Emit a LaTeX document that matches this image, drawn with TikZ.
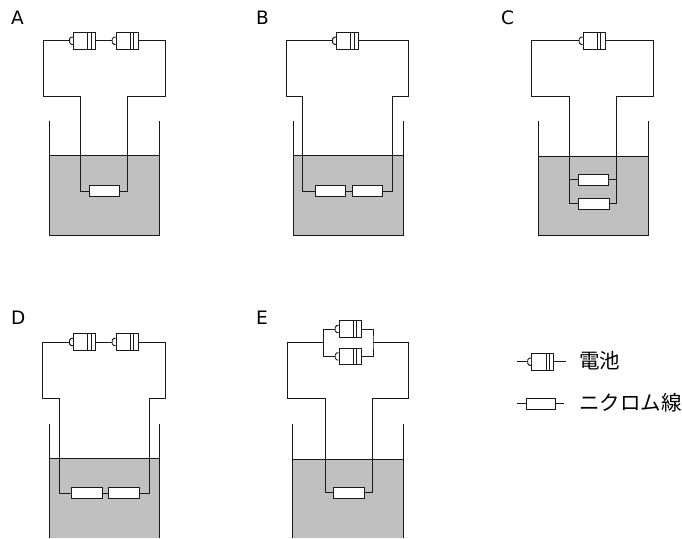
\documentclass[tikz,border=0pt]{standalone}
\usepackage{fontspec}
\setmainfont{DejaVu Sans}
\newfontfamily\cjk{Noto Sans CJK JP}
\definecolor{water}{HTML}{C0C0C0}
\definecolor{ink}{HTML}{1A1A1A}
\tikzset{
  wire/.style={draw=ink,line width=0.95pt,line join=miter},
  cellbody/.style={draw=ink,line width=0.95pt,fill=white,rectangle,inner sep=0pt,minimum width=22.4pt,minimum height=16.6pt},
  heater/.style={draw=ink,line width=0.95pt,fill=white,rectangle,inner sep=0pt,minimum width=30.6pt,minimum height=10.8pt},
  panel/.style={anchor=base west,inner sep=0pt,font=\fontsize{18.5pt}{20pt}\selectfont},
  legendtext/.style={anchor=base west,inner sep=0pt,font=\cjk\fontsize{20.5pt}{22pt}\selectfont}
}
% name, body left x, centre y
\newcommand\battery[3]{%
  \node[cellbody] (#1) at (#2+11.2,#3) {};
  \draw[wire,fill=white] ([yshift=3.6pt]#1.west) -- ++(-1.6pt,0) -- ++(-1.7pt,-1.7pt) -- ++(0,-3.8pt) -- ++(1.7pt,-1.7pt) -- ++(1.6pt,0);
  \draw[wire] ([xshift=15pt]#1.north west) -- ([xshift=15pt]#1.south west);
  \draw[wire] ([xshift=18.4pt]#1.north west) -- ([xshift=18.4pt]#1.south west);
  \coordinate (#1-l) at ([xshift=-3.3pt]#1.west);
}
% left, right, top, water, bottom
\newcommand\beaker[5]{%
  \fill[water] (#1,#4) rectangle (#2,#5);
  \draw[wire] (#1,#4) -- (#2,#4);
  \draw[wire] (#1,#3) -- (#1,#5) -- (#2,#5) -- (#2,#3);
}
\newcommand\beakeropen[5]{%
  \fill[water] (#1,#4) rectangle (#2,#5);
  \draw[wire] (#1,#4) -- (#2,#4);
  \draw[wire] (#1,#3) -- (#1,#5);
  \draw[wire] (#2,#3) -- (#2,#5);
}
\begin{document}
\begin{tikzpicture}[x=1pt,y=-1pt]
\useasboundingbox (0,0) rectangle (682,538);
\fill[white] (0,0) rectangle (682,538);

% panel labels
\node[panel] (la) at (11,24) {A};
\node[panel] (lb) at (256,24) {B};
\node[panel] (lc) at (501,24) {C};
\node[panel] (ld) at (11,324) {D};
\node[panel] (le) at (256,324) {E};

% ---------- A
\beaker{49.5}{159.5}{120.5}{155.7}{235.5}
\battery{a1}{73.3}{40.7}
\battery{a2}{116}{40.7}
\node[heater] (ar) at (104.4,191.2) {};
\coordinate (aSL) at (43,96.7);
\coordinate (aIL) at (80.7,96.7);
\coordinate (aSR) at (165.3,96.7);
\coordinate (aIR) at (127.5,96.7);
\draw[wire] (a1.east) -- (a2-l);
\draw[wire] (a1-l) -| (aSL) -- (aIL) |- (ar.west);
\draw[wire] (a2.east) -| (aSR) -- (aIR) |- (ar.east);

% ---------- B
\beaker{293}{403}{120.5}{155.7}{235.5}
\battery{b1}{336.3}{40.7}
\node[heater] (br1) at (330.5,191.2) {};
\node[heater] (br2) at (367.6,191.2) {};
\coordinate (bSL) at (286.5,96.7);
\coordinate (bIL) at (302.8,96.7);
\coordinate (bSR) at (408.7,96.7);
\coordinate (bIR) at (392.8,96.7);
\draw[wire] (b1-l) -| (bSL) -- (bIL) |- (br1.west);
\draw[wire] (br1.east) -- (br2.west);
\draw[wire] (b1.east) -| (bSR) -- (bIR) |- (br2.east);

% ---------- C
\beaker{538}{648.3}{120.5}{156}{235.5}
\battery{c1}{583}{40.7}
\node[heater] (cr1) at (593.5,179.7) {};
\node[heater] (cr2) at (593.8,203.8) {};
\coordinate (cSL) at (531.5,96.7);
\coordinate (cIL) at (569.5,96.7);
\coordinate (cSR) at (653.7,96.7);
\coordinate (cIR) at (616.7,96.7);
\draw[wire] (c1-l) -| (cSL) -- (cIL) |- (cr2.west);
\draw[wire] (c1.east) -| (cSR) -- (cIR) |- (cr2.east);
\draw[wire] (cr1.west) -- (cIL |- cr1.west);
\draw[wire] (cr1.east) -- (cIR |- cr1.east);

% ---------- D
\beakeropen{49.3}{159.3}{423.5}{458.7}{538}
\battery{d1}{73.3}{342}
\battery{d2}{116}{342}
\node[heater] (dr1) at (87,493.2) {};
\node[heater] (dr2) at (124.2,493.2) {};
\coordinate (dSL) at (42.8,398.5);
\coordinate (dIL) at (59.3,398.5);
\coordinate (dSR) at (165.5,398.5);
\coordinate (dIR) at (149.3,398.5);
\draw[wire] (d1.east) -- (d2-l);
\draw[wire] (d1-l) -| (dSL) -- (dIL) |- (dr1.west);
\draw[wire] (dr1.east) -- (dr2.west);
\draw[wire] (d2.east) -| (dSR) -- (dIR) |- (dr2.east);

% ---------- E
\beakeropen{292.8}{403}{424}{459}{538}
\battery{e1}{339}{329}
\battery{e2}{339}{356.4}
\node[heater] (er) at (348.8,492.8) {};
\coordinate (eJL) at (323.7,342);
\coordinate (eJR) at (373,342);
\coordinate (eSL) at (287.3,398);
\coordinate (eIL) at (325,398);
\coordinate (eSR) at (408.7,398);
\coordinate (eIR) at (372,398);
\draw[wire] (e1-l) -| (eJL) |- (e2-l);
\draw[wire] (e1.east) -| (eJR) |- (e2.east);
\draw[wire] (eJL) -| (eSL) -- (eIL) |- (er.west);
\draw[wire] (eJR) -| (eSR) -- (eIR) |- (er.east);

% ---------- legend
\battery{k1}{531.5}{361.7}
\coordinate (k1a) at (516.7,361.7);
\coordinate (k1b) at (565.7,361.7);
\draw[wire] (k1a) -- (k1-l);
\draw[wire] (k1.east) -- (k1b);
\node[heater,minimum width=29pt] (k2) at (540.5,403.8) {};
\coordinate (k2a) at (516.7,403.8);
\coordinate (k2b) at (564,403.8);
\draw[wire] (k2a) -- (k2.west);
\draw[wire] (k2.east) -- (k2b);
\node[legendtext] (t1) at (579,368.5) {電池};
\node[legendtext] (t2) at (579,410.5) {ニクロム線};
\end{tikzpicture}
\end{document}
